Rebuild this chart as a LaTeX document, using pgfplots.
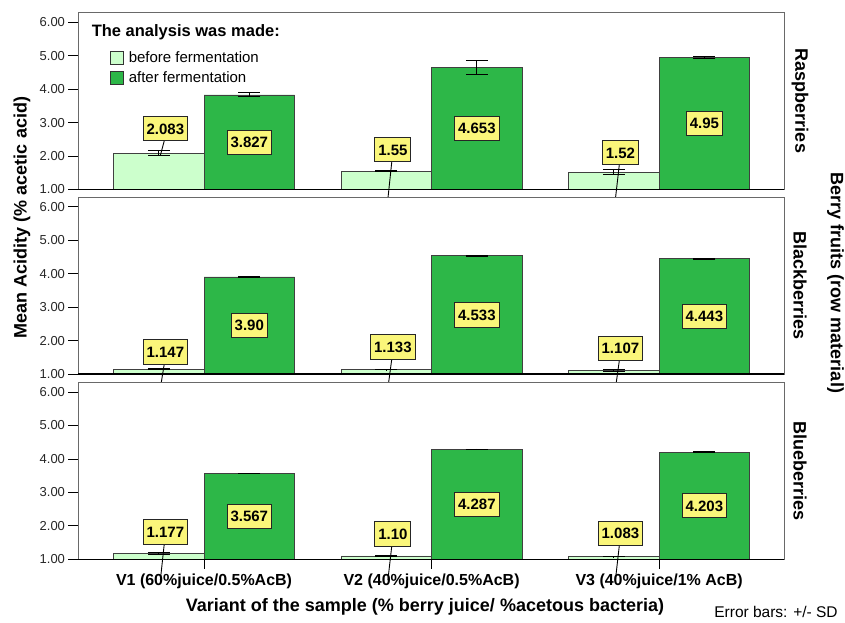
\documentclass[border=0pt]{standalone}
\usepackage{pgfplots}
\pgfplotsset{compat=1.18}
\usepackage{pgfplotstable}
\usepackage{fontspec}
\setmainfont{Liberation Sans}

\definecolor{beforec}{RGB}{204,255,204}
\definecolor{afterc}{RGB}{45,183,72}
\definecolor{labc}{RGB}{250,246,122}
\definecolor{framec}{RGB}{105,105,105}

\pgfplotstableread{
x before beforeerr after aftererr labely lineend
0 2.083 0.08 3.827 0.06 2.82 2.02
1 1.55 0.02 4.653 0.21 2.19 0.72
2 1.52 0.085 4.95 0.02 2.10 0.72
}\tabRasp
\pgfplotstableread{
x before beforeerr after aftererr labely lineend
0 1.147 0.02 3.90 0.02 1.66 0.58
1 1.133 0.01 4.533 0.01 1.81 0.58
2 1.107 0.03 4.443 0.01 1.76 0.56
}\tabBlack
\pgfplotstableread{
x before beforeerr after aftererr labely lineend
0 1.177 0.02 3.567 0.01 1.82 0.38
1 1.10 0.02 4.287 0.01 1.76 0.38
2 1.083 0.01 4.203 0.01 1.77 0.38
}\tabBlue

\tikzset{
  labbox/.style={draw=black!85, fill=labc, line width=1pt,
    font=\bfseries\fontsize{15}{15}\selectfont, inner xsep=3.5pt, inner ysep=6.8pt,
    text height=10.8pt, text depth=0pt, anchor=center},
}
\pgfplotsset{
  panel/.style={
    scale only axis, width=706pt, height=177pt,
    xmin=-0.554, xmax=2.549, ymin=1, ymax=6.29,
    ytick={1,2,3,4,5,6}, ytick pos=left,
    /pgf/number format/fixed, /pgf/number format/fixed zerofill,
    /pgf/number format/precision=2, /pgf/number format/assume math mode=true,
    tick align=outside, major tick length=9.5pt,
    tick style={black, line width=0.8pt},
    tick label style={font=\fontsize{13}{13}\selectfont, text=black!85},
    axis line style={framec, line width=1pt},
    clip mode=individual,
    axis background/.style={fill=white},
    anchor=north west,
  },
  errstyle/.style={error bars/.cd, y dir=both, y explicit,
    error bar style={black, line width=0.9pt},
    error mark options={black, rotate=90, mark size=11pt, line width=0.9pt}},
}

\newcommand{\panelplots}[1]{%
  \addplot[ybar, bar width=90.5pt, bar shift=0pt, fill=beforec, draw=black!75, line width=0.8pt, errstyle]
    table[x expr=\thisrow{x}-0.199, y=before, y error=beforeerr]{#1};
  \addplot[ybar, bar width=90.5pt, bar shift=0pt, fill=afterc, draw=black!75, line width=0.8pt, errstyle]
    table[x expr=\thisrow{x}+0.199, y=after, y error=aftererr]{#1};
  \pgfplotsforeachungrouped \i in {0,1,2}{%
    \pgfplotstablegetelem{\i}{labely}\of{#1}\pgfmathsetmacro\ya{\pgfplotsretval-0.368}%
    \pgfplotstablegetelem{\i}{lineend}\of{#1}\pgfmathsetmacro\yb{\pgfplotsretval}%
    \pgfmathsetmacro\xa{\i-0.175}\pgfmathsetmacro\xb{\i-0.192}%
    \edef\temp{\noexpand\draw[black, line width=0.9pt] (axis cs:\xa,\ya) -- (axis cs:\xb,\yb);}%
    \temp}
  \addplot[draw=none, mark=none, nodes near coords, point meta=explicit symbolic,
    nodes near coords style={labbox}]
    table[x expr=\thisrow{x}+0.199, y expr=(\thisrow{after}+1)/2, meta=after]{#1};
  \addplot[draw=none, mark=none, nodes near coords, point meta=explicit symbolic,
    nodes near coords style={labbox}]
    table[x expr=\thisrow{x}-0.170, y=labely, meta=before]{#1};
  \draw[black, line width=1.3pt] (rel axis cs:0,0) -- (rel axis cs:1,0);
}

\begin{document}
\begin{tikzpicture}
\path[use as bounding box] (0pt,0pt) rectangle (845pt,-623pt);

\begin{axis}[panel, at={(78pt,-12.5pt)}, xtick=\empty,
  legend style={draw=none, fill=none, inner sep=0pt, at={(rel axis cs:0.045,0.79)}, anchor=north west,
    font=\fontsize{15}{15}\selectfont, row sep=3pt, cells={anchor=west},
    /tikz/every odd column/.append style={column sep=3pt}}]
\addlegendimage{legend image code/.code={\draw[fill=beforec,draw=black!80,line width=0.8pt] (0pt,-6.5pt) rectangle (13pt,6.5pt);}}
\addlegendentry{before fermentation}
\addlegendimage{legend image code/.code={\draw[fill=afterc,draw=black!80,line width=0.8pt] (0pt,-6.5pt) rectangle (13pt,6.5pt);}}
\addlegendentry{after fermentation}
\panelplots{\tabRasp}
\node[anchor=west, font=\bfseries\fontsize{16.5}{16.5}\selectfont] at (rel axis cs:0.0145,0.89) {The analysis was made:};
\node[rotate=-90, font=\bfseries\fontsize{18}{18}\selectfont] at (rel axis cs:1.0227,0.5) {Raspberries};
\end{axis}

\begin{axis}[panel, at={(78pt,-197pt)}, xtick=\empty]
\panelplots{\tabBlack}
\node[rotate=-90, font=\bfseries\fontsize{18}{18}\selectfont] at (rel axis cs:1.0227,0.5) {Blackberries};
\end{axis}

\begin{axis}[panel, at={(78pt,-382.3pt)}, xtick={0,1,2}, xtick pos=bottom,
  xticklabels={V1 (60\%juice/0.5\%AcB), V2 (40\%juice/0.5\%AcB), V3 (40\%juice/1\% AcB)},
  x tick label style={font=\bfseries\fontsize{16}{16}\selectfont, text=black, yshift=-1.5pt}]
\panelplots{\tabBlue}
\node[rotate=-90, font=\bfseries\fontsize{18}{18}\selectfont] at (rel axis cs:1.0227,0.5) {Blueberries};
\end{axis}

\node[rotate=90, font=\bfseries\fontsize{18}{18}\selectfont] at (22pt,-217.5pt) {Mean Acidity (\% acetic acid)};
\node[rotate=-90, font=\bfseries\fontsize{18}{18}\selectfont] at (835.5pt,-283pt) {Berry fruits (row material)};
\node[font=\bfseries\fontsize{18}{18}\selectfont] at (425pt,-607pt) {Variant of the sample (\% berry juice/ \%acetous bacteria)};
\node[font=\fontsize{15.5}{15.5}\selectfont] at (776pt,-612pt) {Error bars: +/- SD};
\end{tikzpicture}
\end{document}
